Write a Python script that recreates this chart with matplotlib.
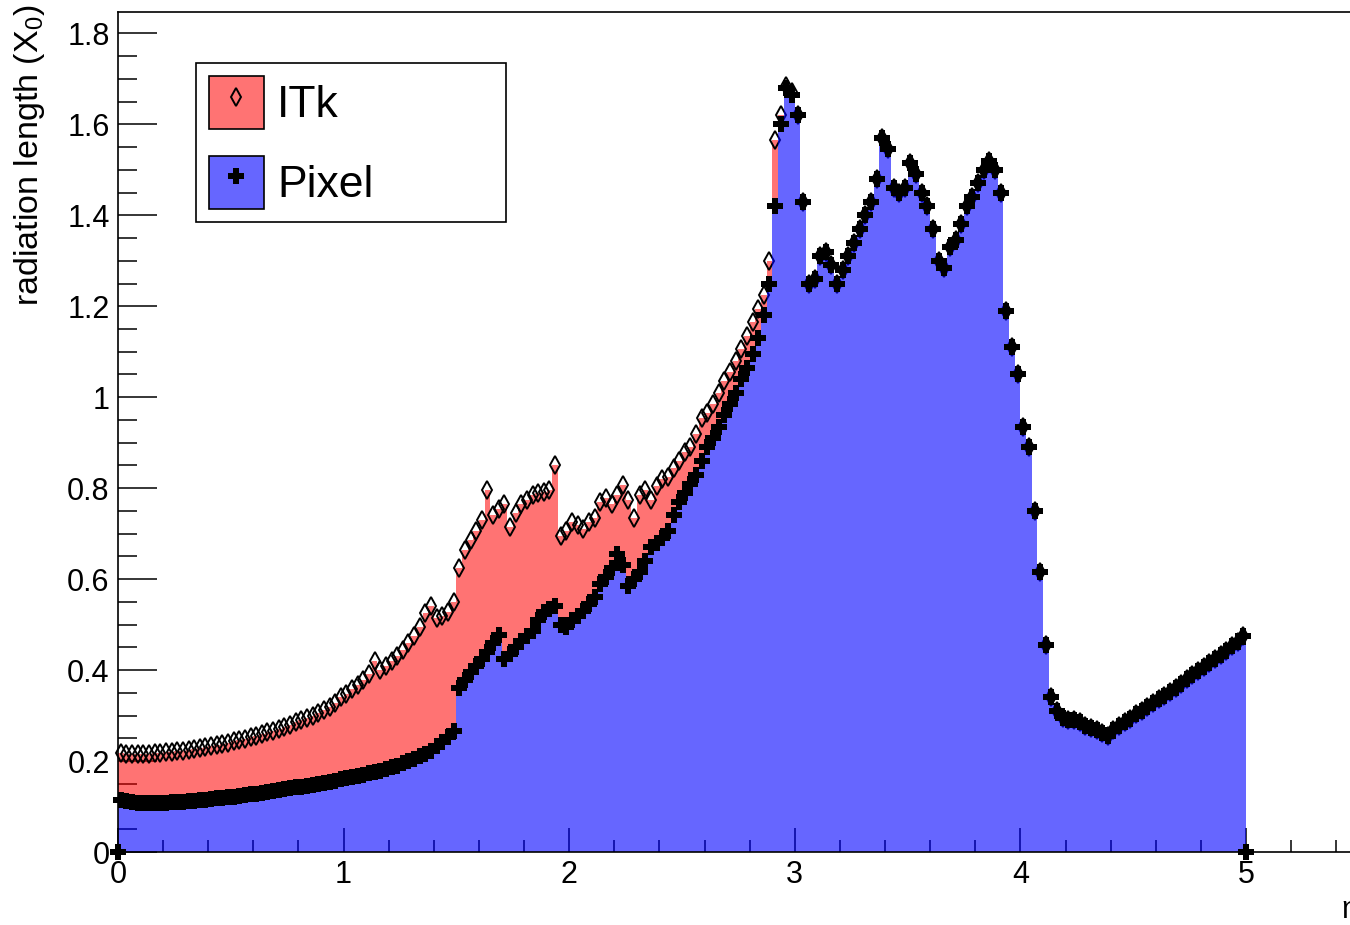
import numpy as np
import matplotlib
matplotlib.use("Agg")
import matplotlib.pyplot as plt
from matplotlib.patches import Patch
from matplotlib.lines import Line2D
from matplotlib.ticker import MultipleLocator, FuncFormatter

plt.rcParams['font.family'] = ['Liberation Sans', 'DejaVu Sans']
plt.rcParams['mathtext.fontset'] = 'custom'
plt.rcParams['mathtext.rm'] = 'Liberation Sans'
plt.rcParams['mathtext.it'] = 'Liberation Sans'

# ---- data (bins of width 0.025 from 0 to 5) ----
bin_edges_lo = 0.0
bin_width = 0.025

pixel = [
    0.115, 0.112, 0.110, 0.108, 0.107, 0.107, 0.108, 0.107, 0.108, 0.109,
    0.110, 0.111, 0.112, 0.113, 0.114, 0.115, 0.116, 0.118, 0.119, 0.120,
    0.122, 0.123, 0.125, 0.127, 0.128, 0.130, 0.132, 0.134, 0.136, 0.138,
    0.140, 0.142, 0.144, 0.146, 0.148, 0.150, 0.152, 0.155, 0.157, 0.160,
    0.162, 0.165, 0.168, 0.170, 0.173, 0.176, 0.179, 0.182, 0.186, 0.190,
    0.195, 0.199, 0.204, 0.210, 0.216, 0.223, 0.232, 0.242, 0.252, 0.265,
    0.360, 0.378, 0.395, 0.408, 0.425, 0.440, 0.460, 0.478, 0.425, 0.435,
    0.450, 0.465, 0.475, 0.485, 0.510, 0.527, 0.535, 0.540, 0.500, 0.495,
    0.510, 0.520, 0.530, 0.545, 0.560, 0.590, 0.605, 0.625, 0.655, 0.630,
    0.585, 0.600, 0.615, 0.640, 0.670, 0.680, 0.690, 0.705, 0.740, 0.770,
    0.790, 0.810, 0.830, 0.860, 0.890, 0.910, 0.935, 0.960, 0.985, 1.010,
    1.040, 1.065, 1.095, 1.130, 1.180, 1.250, 1.420, 1.600, 1.680, 1.665,
    1.620, 1.430, 1.250, 1.260, 1.310, 1.320, 1.290, 1.250, 1.280, 1.310,
    1.340, 1.370, 1.400, 1.430, 1.480, 1.570, 1.545, 1.460, 1.450, 1.460,
    1.515, 1.490, 1.450, 1.420, 1.370, 1.300, 1.285, 1.330, 1.345, 1.380,
    1.420, 1.440, 1.470, 1.500, 1.520, 1.500, 1.450, 1.190, 1.110, 1.050,
    0.935, 0.890, 0.750, 0.615, 0.455, 0.340, 0.310, 0.295, 0.290, 0.290,
    0.285, 0.278, 0.272, 0.268, 0.262, 0.255, 0.268, 0.278, 0.285, 0.292,
    0.303, 0.311, 0.319, 0.327, 0.336, 0.344, 0.352, 0.361, 0.370, 0.380,
    0.390, 0.398, 0.407, 0.416, 0.425, 0.434, 0.443, 0.453, 0.462, 0.475,
]

# ITk total for eta < 3 (beyond that it coincides with the Pixel values)
itk_inner = [
    0.218, 0.216, 0.215, 0.215, 0.215, 0.216, 0.217, 0.218, 0.219, 0.220,
    0.222, 0.223, 0.225, 0.227, 0.229, 0.231, 0.233, 0.236, 0.238, 0.240,
    0.243, 0.246, 0.249, 0.252, 0.256, 0.259, 0.263, 0.267, 0.271, 0.275,
    0.280, 0.285, 0.290, 0.295, 0.300, 0.306, 0.312, 0.318, 0.328, 0.340,
    0.348, 0.358, 0.368, 0.378, 0.392, 0.420, 0.400, 0.408, 0.420, 0.432,
    0.445, 0.460, 0.475, 0.495, 0.525, 0.540, 0.515, 0.520, 0.528, 0.550,
    0.625, 0.665, 0.685, 0.705, 0.730, 0.795, 0.740, 0.755, 0.765, 0.715,
    0.745, 0.765, 0.775, 0.785, 0.790, 0.792, 0.797, 0.850, 0.695, 0.705,
    0.725, 0.720, 0.710, 0.725, 0.735, 0.770, 0.778, 0.765, 0.785, 0.808,
    0.775, 0.735, 0.785, 0.795, 0.775, 0.805, 0.820, 0.825, 0.845, 0.860,
    0.880, 0.890, 0.920, 0.955, 0.965, 0.985, 1.010, 1.035, 1.055, 1.080,
    1.105, 1.135, 1.165, 1.195, 1.225, 1.300, 1.565, 1.620, 1.685, 1.670,
]
itk = itk_inner + pixel[len(itk_inner):]

edge_marker_x = [0.0, 5.0]
edge_marker_y = [0.0, 0.0]

y_ticks = [0, 0.2, 0.4, 0.6, 0.8, 1.0, 1.2, 1.4, 1.6, 1.8]
x_ticks = [0, 1, 2, 3, 4, 5]
legend_labels = ["ITk", "Pixel"]

# ---- figure ----
W, H = 1350, 925
fig = plt.figure(figsize=(W / 100, H / 100), dpi=100)
ax = fig.add_axes([118 / W, 73 / H, 5.5 * 225.6 / W, 840 / H])

n = len(pixel)
edges = bin_edges_lo + bin_width * np.arange(n + 1)
centers = bin_edges_lo + bin_width * (np.arange(n) + 0.5)
pix = np.asarray(pixel)
itkv = np.asarray(itk)

red_fill = (1.0, 0.0, 0.0, 0.55)
blue_fill = (0.0, 0.0, 1.0, 0.6)

ax.fill_between(edges, np.append(pix, pix[-1]), np.append(itkv, itkv[-1]),
                step='post', facecolor=red_fill, edgecolor='none', zorder=1)
ax.plot(centers, itkv, linestyle='none', marker='d', markersize=9,
        markerfacecolor='none', markeredgecolor='black', markeredgewidth=1.4,
        zorder=2, clip_on=False)
ax.fill_between(edges, 0, np.append(pix, pix[-1]), step='post',
                facecolor=blue_fill, edgecolor='none', zorder=3)
ax.plot(centers, pix, linestyle='none', marker='P', markersize=11,
        color='black', markeredgewidth=0, zorder=4, clip_on=False)
ax.plot(edge_marker_x, edge_marker_y, linestyle='none', marker='P',
        markersize=11, color='black', markeredgewidth=0, zorder=4, clip_on=False)

ax.set_xlim(0, 5.5)
ax.set_ylim(0, 1.847)
ax.set_axisbelow(True)

ax.set_xticks(x_ticks)
ax.set_yticks(y_ticks)
ax.xaxis.set_minor_locator(MultipleLocator(0.2))
ax.yaxis.set_minor_locator(MultipleLocator(0.05))
ax.yaxis.set_major_formatter(FuncFormatter(lambda v, p: '%g' % round(v, 3)))
ax.xaxis.set_major_formatter(FuncFormatter(lambda v, p: '%g' % v))

ax.tick_params(axis='both', which='both', direction='in', colors='black',
               width=1.1, labelsize=22, top=False, right=False)
ax.tick_params(axis='y', which='major', length=28, pad=6)
ax.tick_params(axis='y', which='minor', length=14)
ax.tick_params(axis='x', which='major', length=17, pad=6)
ax.tick_params(axis='x', which='minor', length=9)
for s in ax.spines.values():
    s.set_linewidth(1.2)
    s.set_zorder(5)

fig.text(30 / W, 1 - 4 / H, 'radiation length (X$_0$)', rotation=90,
         ha='center', va='top', fontsize=24.5)
fig.text(1341 / W, 1 - 918 / H, 'η', ha='left', va='baseline', fontsize=22)

handles = [
    (Patch(facecolor=red_fill, edgecolor='black', linewidth=1.2),
     Line2D([], [], linestyle='none', marker='d', markersize=9,
            markerfacecolor='none', markeredgecolor='black', markeredgewidth=1.4)),
    (Patch(facecolor=blue_fill, edgecolor='black', linewidth=1.2),
     Line2D([], [], linestyle='none', marker='P', markersize=11,
            color='black', markeredgewidth=0)),
]
axw = 5.5 * 225.6
x0 = (196 - 118) / axw
wl = (506 - 196) / axw
y1 = (852 - 63) / 840
leg = ax.legend(handles, legend_labels, loc='upper left', mode='expand',
                bbox_to_anchor=(x0, y1 - 0.2, wl, 0.2), borderaxespad=0,
                fontsize=32, frameon=True, fancybox=False, shadow=False,
                handlelength=1.22, handleheight=1.45, handletextpad=0.3,
                borderpad=0.3, labelspacing=0.6)
leg.get_frame().set_edgecolor('black')
leg.get_frame().set_linewidth(1.2)
leg.get_frame().set_alpha(None)
leg.get_frame().set_facecolor('white')
leg.set_zorder(10)

fig.savefig('out.png', dpi=100)
